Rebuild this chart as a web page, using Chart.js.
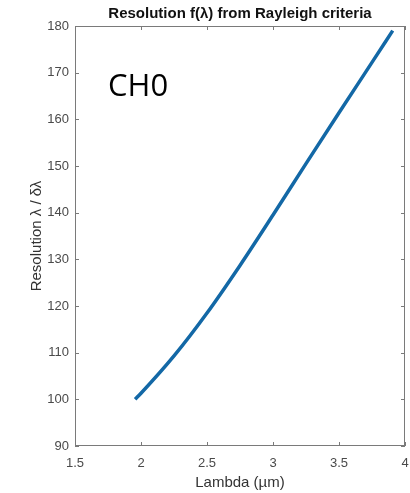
<!DOCTYPE html>
<html>
<head>
<meta charset="utf-8">
<script src="https://cdn.jsdelivr.net/npm/chart.js@4"></script>
<style>
  html, body { margin: 0; padding: 0; background: #fff; }
  #wrap { width: 410px; height: 493px; }
</style>
</head>
<body>
<div id="wrap"><canvas id="canvas" width="410" height="493"></canvas></div>
<script>
// DATA
const lambdaValues = [1.955, 2.0, 2.25, 2.5, 2.75, 3.0, 3.25, 3.5, 3.75, 3.907];
const resolutionValues = [100, 101.3, 109.3, 118.5, 128.7, 139.5, 150.5, 161.4, 172.2, 179.0];
const xTickValues = [1.5, 2, 2.5, 3, 3.5, 4];
const yTickValues = [90, 100, 110, 120, 130, 140, 150, 160, 170, 180];

const chartTitle = 'Resolution f(\u03bb) from Rayleigh criteria';
const xTitle = 'Lambda (\u00b5m)';
const yTitle = 'Resolution \u03bb / \u03b4\u03bb';
const channelName = 'CH0';

const axisGrey = '#7a7a7a';
const tickGrey = '#4a4a4a';

// box, inner ticks, title and the CH0 note
const matlabBox = {
  id: 'matlabBox',
  afterDraw(chart) {
    const ctx = chart.ctx;
    const a = chart.chartArea;
    const x = chart.scales.x, y = chart.scales.y;
    ctx.save();
    ctx.strokeStyle = axisGrey;
    ctx.lineWidth = 1;
    ctx.strokeRect(a.left + 0.5, a.top + 0.5, a.right - a.left - 1, a.bottom - a.top - 1);
    ctx.beginPath();
    xTickValues.forEach(v => {
      const px = Math.round(x.getPixelForValue(v)) + 0.5;
      ctx.moveTo(px, a.bottom); ctx.lineTo(px, a.bottom - 4);
      ctx.moveTo(px, a.top); ctx.lineTo(px, a.top + 4);
    });
    yTickValues.forEach(v => {
      const py = Math.round(y.getPixelForValue(v)) + 0.5;
      ctx.moveTo(a.left, py); ctx.lineTo(a.left + 4, py);
      ctx.moveTo(a.right, py); ctx.lineTo(a.right - 4, py);
    });
    ctx.stroke();

    ctx.fillStyle = '#111';
    ctx.font = 'bold 15px "Liberation Sans", Arial, sans-serif';
    ctx.textAlign = 'center';
    ctx.textBaseline = 'middle';
    ctx.fillText(chartTitle, (a.left + a.right) / 2, 14);

    ctx.fillStyle = '#000';
    ctx.font = '31px "Open Sans", sans-serif';
    ctx.textAlign = 'left';
    ctx.textBaseline = 'alphabetic';
    ctx.fillText(channelName, 108, 96);
    ctx.restore();
  }
};

var ctx = document.getElementById('canvas').getContext('2d');
window.myLine = new Chart(ctx, {
  type: 'line',
  data: {
    datasets: [{
      data: lambdaValues.map((l, i) => ({ x: l, y: resolutionValues[i] })),
      borderColor: '#1368a6',
      borderWidth: 3.5,
      pointRadius: 0,
      fill: false,
      cubicInterpolationMode: 'monotone'
    }]
  },
  options: {
    responsive: false,
    animation: false,
    layout: { padding: { top: 26, right: 5, left: 0, bottom: 0 } },
    plugins: {
      legend: { display: false },
      tooltip: { enabled: false },
      title: { display: false }
    },
    scales: {
      x: {
        type: 'linear',
        min: 1.5,
        max: 4,
        afterBuildTicks: s => { s.ticks = xTickValues.map(v => ({ value: v })); },
        afterFit: s => { s.height = 47; s.paddingLeft = 0; s.paddingRight = 0; },
        grid: { display: false, drawTicks: false },
        border: { display: false },
        ticks: {
          color: tickGrey,
          padding: 10,
          font: { family: '"Liberation Sans", Arial, sans-serif', size: 13 },
          maxRotation: 0,
          callback: v => String(v)
        },
        title: {
          display: true,
          text: xTitle,
          color: '#333',
          padding: { top: 0, bottom: 1 },
          font: { family: '"Liberation Sans", Arial, sans-serif', size: 15 }
        }
      },
      y: {
        type: 'linear',
        min: 90,
        max: 180,
        afterBuildTicks: s => { s.ticks = yTickValues.map(v => ({ value: v })); },
        afterFit: s => { s.width = 75; s.paddingTop = 0; s.paddingBottom = 0; },
        grid: { display: false, drawTicks: false },
        border: { display: false },
        ticks: {
          color: tickGrey,
          padding: 6,
          font: { family: '"Liberation Sans", Arial, sans-serif', size: 13 }
        },
        title: {
          display: true,
          text: yTitle,
          color: '#333',
          padding: { top: 28, bottom: 0 },
          font: { family: '"Liberation Sans", Arial, sans-serif', size: 15 }
        }
      }
    }
  },
  plugins: [matlabBox]
});
</script>
</body>
</html>
